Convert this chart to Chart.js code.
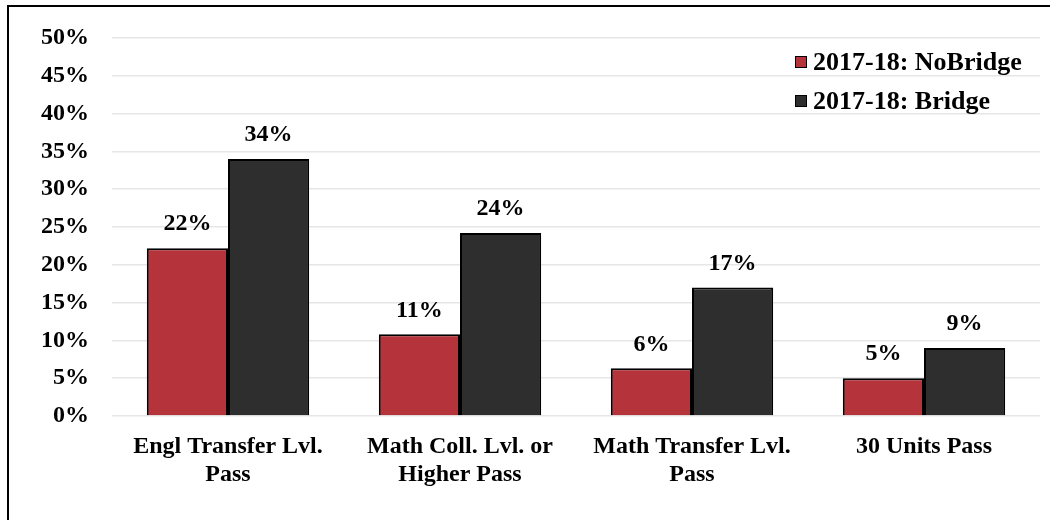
<!DOCTYPE html>
<html>
<head>
<meta charset="utf-8">
<script src="https://cdn.jsdelivr.net/npm/chart.js@4.4.0/dist/chart.umd.min.js"></script>
<style>
  html, body { margin: 0; padding: 0; background: #fff; }
  #wrap { position: relative; width: 1050px; height: 520px; }
</style>
</head>
<body>
<div id="wrap"><canvas id="chart" width="1050" height="520"></canvas></div>
<script>
// categories (two-line labels as in the original)
const categories = [
  ['Engl Transfer Lvl.', 'Pass'],
  ['Math Coll. Lvl. or', 'Higher Pass'],
  ['Math Transfer Lvl.', 'Pass'],
  ['30 Units Pass']
];
const seriesNames = ['2017-18: NoBridge', '2017-18: Bridge'];
const noBridge = [22.2, 10.8, 6.3, 5.0];
const bridge = [34.0, 24.2, 17.0, 9.0];
const yTicks = [0, 5, 10, 15, 20, 25, 30, 35, 40, 45, 50];

const FONT = '"Liberation Serif", "DejaVu Serif", serif';
const SIZE = 24;
const colors = ['#b5333a', '#2e2e2e'];

// frame line on the left and top, like the cropped original
const framePlugin = {
  id: 'frame',
  beforeDraw(chart) {
    const ctx = chart.ctx;
    ctx.save();
    ctx.fillStyle = '#fff';
    ctx.fillRect(0, 0, chart.width, chart.height);
    ctx.strokeStyle = '#000';
    ctx.lineWidth = 2;
    ctx.beginPath();
    ctx.moveTo(8, chart.height);
    ctx.lineTo(8, 6);
    ctx.lineTo(chart.width, 6);
    ctx.stroke();
    ctx.restore();
  }
};

// value labels above every bar
const valueLabels = {
  id: 'valueLabels',
  afterDatasetsDraw(chart) {
    const ctx = chart.ctx;
    ctx.save();
    ctx.font = 'bold ' + SIZE + 'px ' + FONT;
    ctx.fillStyle = '#000';
    ctx.textAlign = 'center';
    ctx.textBaseline = 'middle';
    chart.data.datasets.forEach((ds, i) => {
      chart.getDatasetMeta(i).data.forEach((bar, j) => {
        ctx.fillText(Math.round(ds.data[j]) + '%', bar.x, bar.y - 24);
      });
    });
    ctx.restore();
  }
};

// stacked legend in the top right corner
const stackedLegend = {
  id: 'stackedLegend',
  afterDraw(chart) {
    const ctx = chart.ctx;
    ctx.save();
    ctx.font = 'bold ' + (SIZE + 2) + 'px ' + FONT;
    ctx.textBaseline = 'middle';
    ctx.textAlign = 'left';
    chart.data.datasets.forEach((ds, i) => {
      const y = 62 + i * 39;
      ctx.fillStyle = ds.backgroundColor;
      ctx.fillRect(795, y - 6, 12, 12);
      ctx.strokeStyle = '#000';
      ctx.lineWidth = 1;
      ctx.strokeRect(795.5, y - 5.5, 11, 11);
      ctx.fillStyle = '#000';
      ctx.fillText(ds.label, 813, y + 1);
    });
    ctx.restore();
  }
};

new Chart(document.getElementById('chart'), {
  type: 'bar',
  data: {
    labels: categories,
    datasets: [
      { label: seriesNames[0], data: noBridge, backgroundColor: colors[0],
        borderColor: '#000', borderWidth: 2 },
      { label: seriesNames[1], data: bridge, backgroundColor: colors[1],
        borderColor: '#000', borderWidth: 2 }
    ]
  },
  options: {
    responsive: false,
    animation: false,
    layout: { padding: { top: 38, right: 10, left: 0, bottom: 0 } },
    datasets: { bar: { barPercentage: 1, categoryPercentage: 0.7 } },
    plugins: {
      legend: { display: false },
      tooltip: { enabled: false }
    },
    scales: {
      x: {
        grid: { display: false, drawTicks: false },
        border: { display: false },
        ticks: {
          color: '#000',
          font: { family: FONT, size: SIZE, weight: 'bold', lineHeight: 1.17 },
          padding: 17,
          maxRotation: 0,
          autoSkip: false
        },
        afterFit(scale) { scale.height = 104; }
      },
      y: {
        min: 0,
        max: 50,
        afterBuildTicks(scale) { scale.ticks = yTicks.map(v => ({ value: v })); },
        grid: { color: '#e6e6e6', lineWidth: 1.5, drawTicks: false },
        border: { display: false },
        ticks: {
          color: '#000',
          font: { family: FONT, size: SIZE, weight: 'bold' },
          padding: 23,
          callback: v => v + '%'
        },
        afterFit(scale) { scale.width = 112; }
      }
    }
  },
  plugins: [framePlugin, valueLabels, stackedLegend]
});
</script>
</body>
</html>
